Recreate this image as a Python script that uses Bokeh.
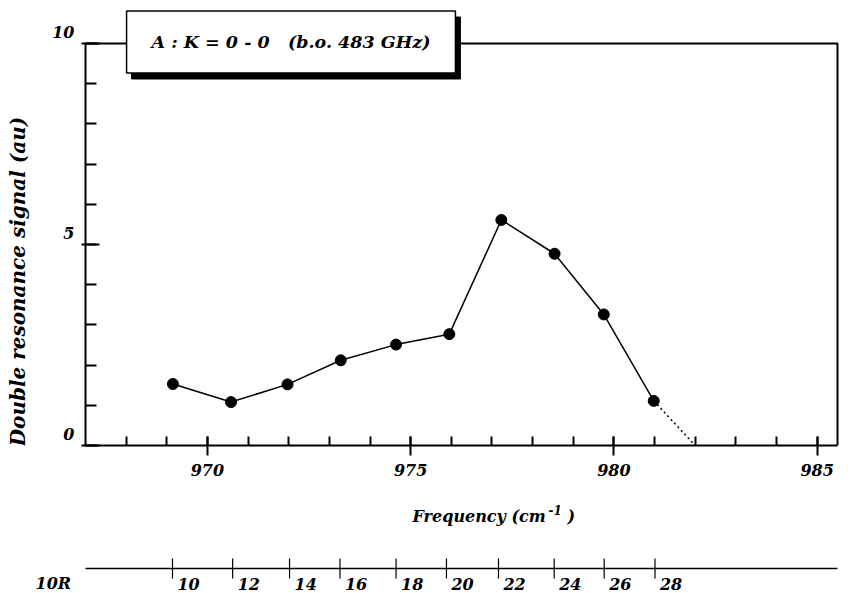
from bokeh.plotting import figure
from bokeh.models import Range1d, FixedTicker, Label
from bokeh.layouts import column, row
from bokeh.embed import file_html
from bokeh.resources import INLINE
from bokeh.core.properties import value
import math

# ---------------- data ----------------
freq = [969.15, 970.58, 971.97, 973.28, 974.64, 975.95, 977.23, 978.54, 979.75, 980.98]
signal = [1.53, 1.08, 1.52, 2.12, 2.51, 2.77, 5.61, 4.77, 3.26, 1.11]
extrap_freq = [980.98, 982.0]
extrap_signal = [1.11, 0.0]
laser_lines = [969.14, 970.62, 972.02, 973.26, 974.64, 975.88, 977.16, 978.53, 979.76, 981.01]
laser_labels = ["10", "12", "14", "16", "18", "20", "22", "24", "26", "28"]
x_major = [970, 975, 980, 985]
x_minor = list(range(968, 986))
y_major = [0, 5, 10]
y_major_labels = ["0", "5", "10"]
y_minor = list(range(0, 11))
x_lo, x_hi = 967.0, 985.5
y_lo, y_hi = 0.0, 10.0
title_text = "A\u00a0:\u00a0K\u00a0=\u00a00\u00a0-\u00a00\u00a0\u00a0\u00a0(b.o.\u00a0483\u00a0GHz)"
ylabel_text = "Double resonance signal (au)"
xlabel_text = "Frequency (cm"
xlabel_sup = "-1"
laser_branch = "10R"

# ---------------- geometry (page pixels) ----------------
FONT = "DejaVu Serif"
PAGE_W, PAGE_H = 850, 592
LEFT_W = 30
H_TOP = 490
FRAME_L, FRAME_R, FRAME_T, FRAME_B = 85, 837, 43, 445
k = (FRAME_R - FRAME_L) / (x_hi - x_lo)          # px per cm-1
ky = (FRAME_B - FRAME_T) / (y_hi - y_lo)         # px per au


def txt(fig, text, sx, sy, size, **kw):
    fig.add_layout(Label(x=sx, y=sy, x_units="screen", y_units="screen", text=text,
                         text_font=FONT, text_font_style="bold italic", text_font_size=size,
                         text_color=kw.pop("text_color", "black"), **kw))

# ---------------- main plot ----------------
p = figure(width=PAGE_W - LEFT_W, height=H_TOP,
           x_range=Range1d(x_lo, x_lo + (PAGE_W - FRAME_L) / k),
           y_range=Range1d(y_lo, y_lo + FRAME_B / ky),
           output_backend="svg", toolbar_location=None,
           min_border_left=FRAME_L - LEFT_W, min_border_right=0, min_border_top=0,
           min_border_bottom=H_TOP - FRAME_B)
p.grid.visible = False
p.outline_line_color = None
p.background_fill_color = "white"
p.border_fill_color = "white"

xa = p.xaxis[0]
xa.bounds = (x_lo, x_hi)
xa.ticker = FixedTicker(ticks=x_major, minor_ticks=x_minor)
xa.axis_line_width = 2
xa.major_tick_line_width = 2
xa.minor_tick_line_width = 2
xa.major_tick_in = 9
xa.major_tick_out = 10
xa.minor_tick_in = 9
xa.minor_tick_out = 0
xa.major_label_standoff = 8
xa.major_label_text_font = FONT
xa.major_label_text_font_style = "bold italic"
xa.major_label_text_font_size = "16px"
xa.major_label_text_color = "black"

ya = p.yaxis[0]
ya.bounds = (y_lo, y_hi)
ya.ticker = FixedTicker(ticks=y_major, minor_ticks=y_minor)
# labels sit slightly above their ticks in the original: add an empty second line
ya.major_label_overrides = {t: s + "\n" for t, s in zip(y_major, y_major_labels)}
ya.axis_line_width = 2
ya.major_tick_line_width = 2
ya.minor_tick_line_width = 2
ya.major_tick_in = 14
ya.major_tick_out = 4
ya.minor_tick_in = 11
ya.minor_tick_out = 0
ya.major_label_standoff = 7
ya.major_label_text_font = FONT
ya.major_label_text_font_style = "bold italic"
ya.major_label_text_font_size = "16px"
ya.major_label_text_color = "black"

# top and right border of the plot box
p.line([x_lo, x_hi, x_hi], [y_hi, y_hi, y_lo], line_color="black", line_width=2)

p.line(freq, signal, line_color="black", line_width=1.5)
p.line(extrap_freq, extrap_signal, line_color="black", line_width=1.5, line_dash="2 3")
p.scatter(freq, signal, size=11, color="black")

# title box with drop shadow (page centre 290.5, 41.5)
cx, cy = 290.5 - FRAME_L, FRAME_B - 41.5
pad = dict(left=25, right=25, top=21, bottom=21)
txt(p, title_text, cx + 5, cy - 6, "17.5px", text_align="center", text_baseline="middle",
    background_fill_color="black", border_line_color="black", padding=pad)
txt(p, title_text, cx, cy, "17.5px", text_align="center", text_baseline="middle",
    background_fill_color="white", border_line_color="black", border_line_width=1.5,
    padding=pad)

# ---------------- left strip: y label ----------------
pL = figure(width=LEFT_W, height=H_TOP, x_range=Range1d(0, 1), y_range=Range1d(0, 1),
            output_backend="svg", toolbar_location=None,
            min_border_left=0, min_border_right=0, min_border_top=0, min_border_bottom=0,
            x_axis_location=None, y_axis_location=None)
pL.grid.visible = False
pL.outline_line_color = None
txt(pL, ylabel_text, 17, H_TOP - 281 - 45, "20px", text_align="center", text_baseline="middle",
    angle=math.pi / 2)

# ---------------- bottom strip: x label and laser-line scale ----------------
HB = PAGE_H - H_TOP
pB = figure(width=PAGE_W, height=HB,
            x_range=Range1d(x_lo - FRAME_L / k, x_lo + (PAGE_W - FRAME_L) / k),
            y_range=Range1d(0, HB),
            output_backend="svg", toolbar_location=None,
            min_border_left=0, min_border_right=0, min_border_top=0, min_border_bottom=0,
            x_axis_location=None, y_axis_location=None)
pB.grid.visible = False
pB.outline_line_color = None

txt(pB, xlabel_text, 412, PAGE_H - 516, "16px", text_align="left", text_baseline="middle")
txt(pB, xlabel_sup, 548, PAGE_H - 509, "12px", text_align="left", text_baseline="middle")
txt(pB, ")", 567, PAGE_H - 516, "16px", text_align="left", text_baseline="middle")

scale_y = PAGE_H - 568
n = len(laser_lines)
pB.line([x_lo, x_hi], [scale_y, scale_y], line_color="black", line_width=1.5)
pB.segment(x0=laser_lines, y0=[scale_y - 10] * n, x1=laser_lines, y1=[scale_y + 10] * n,
           line_color="black", line_width=1.2)
pB.text(x=laser_lines, y=[PAGE_H - 583] * n, text=laser_labels, x_offset=5,
        text_font=value(FONT), text_font_style="bold italic", text_font_size="16px",
        text_baseline="middle", text_align="left", text_color="black")
txt(pB, laser_branch, 35, PAGE_H - 583, "16px", text_align="left", text_baseline="middle")

layout = column(row(pL, p, spacing=0), pB, spacing=0)
open("out.html", "w").write(file_html(layout, INLINE))
